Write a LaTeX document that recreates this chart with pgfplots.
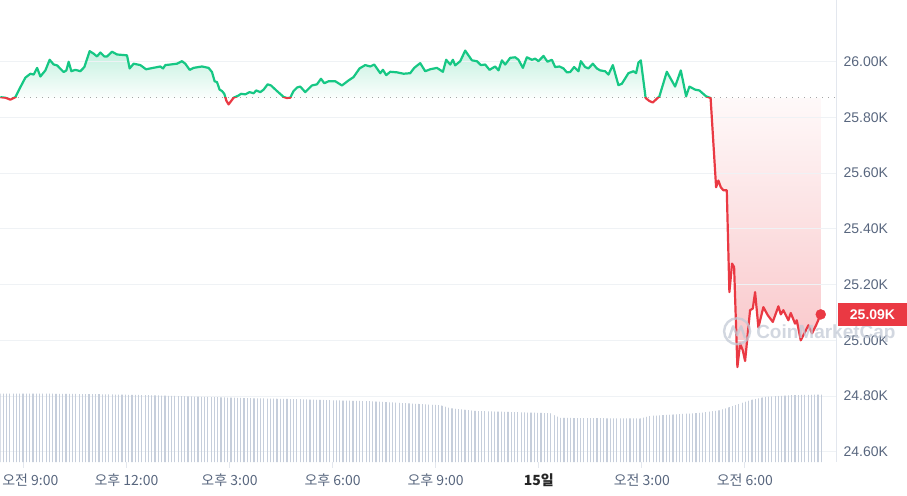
\documentclass[border=0pt]{standalone}
\usepackage{fontspec}
\setmainfont{Liberation Sans}
\newfontfamily\kr{Noto Sans CJK KR}
\usepackage{pgfplots}
\usepackage{pgfplotstable}
\pgfplotsset{compat=1.18}
\usetikzlibrary{patterns.meta}

\definecolor{upgreen}{HTML}{16C784}
\definecolor{downred}{HTML}{EA3943}
\definecolor{gridc}{HTML}{EFF2F5}
\definecolor{axc}{HTML}{E3E7EE}
\definecolor{labc}{HTML}{58667E}
\definecolor{volc}{HTML}{C6CEDB}
\definecolor{wmark}{HTML}{C3CAD6}

\def\pmin{24.563}
\def\pmax{26.219}
\def\pref{25.872}

\pgfplotsset{
  frame/.style={anchor=south west, scale only axis,
    width=836bp, xmin=-0.669, xmax=23.654},
}

% price in thousands, time in hours after 9:00
\pgfplotstableread{
h p
-0.669 25.872
-0.524 25.870
-0.378 25.863
-0.233 25.872
-0.087 25.908
0.058 25.942
0.204 25.956
0.300 25.953
0.399 25.977
0.495 25.946
0.640 25.968
0.765 26.006
0.882 25.989
0.981 25.986
1.173 25.962
1.251 25.968
1.318 25.999
1.397 25.965
1.513 25.970
1.658 25.965
1.775 25.980
1.929 26.037
2.045 26.028
2.144 26.018
2.240 26.032
2.357 26.018
2.435 26.018
2.581 26.035
2.726 26.025
3.017 26.022
3.093 25.975
3.209 25.992
3.404 25.987
3.570 25.972
3.695 25.975
3.986 25.982
4.065 25.975
4.132 25.987
4.277 25.989
4.472 25.992
4.617 26.001
4.713 25.992
4.839 25.970
4.955 25.977
5.199 25.982
5.391 25.977
5.490 25.962
5.566 25.929
5.636 25.926
5.711 25.899
5.781 25.894
5.848 25.884
5.906 25.860
5.973 25.846
6.119 25.870
6.264 25.878
6.334 25.884
6.459 25.882
6.584 25.890
6.701 25.886
6.779 25.896
6.895 25.890
6.992 25.899
7.108 25.918
7.207 25.914
7.381 25.894
7.573 25.873
7.667 25.869
7.768 25.870
7.864 25.894
7.972 25.907
8.059 25.910
8.205 25.890
8.400 25.914
8.545 25.918
8.662 25.938
8.758 25.922
8.883 25.929
9.078 25.929
9.273 25.914
9.465 25.932
9.610 25.944
9.785 25.975
9.950 25.987
10.096 25.982
10.212 25.989
10.387 25.958
10.465 25.970
10.562 25.951
10.678 25.963
10.873 25.961
11.065 25.956
11.260 25.958
11.376 25.977
11.551 25.994
11.696 25.965
11.842 25.972
12.037 25.977
12.211 25.963
12.307 26.006
12.424 25.989
12.502 26.006
12.569 25.986
12.715 26.001
12.860 26.039
13.055 26.004
13.200 26.001
13.317 25.987
13.442 25.989
13.567 25.970
13.733 25.982
13.829 25.968
13.928 26.004
14.024 25.989
14.169 26.013
14.315 26.015
14.411 26.006
14.539 25.977
14.655 26.015
14.801 26.006
14.897 26.010
14.993 26.001
15.138 26.020
15.254 25.999
15.382 26.006
15.479 25.980
15.604 25.982
15.720 25.975
15.819 25.961
15.915 25.962
16.031 25.980
16.157 25.965
16.226 26.001
16.351 25.980
16.447 25.975
16.575 25.992
16.692 25.975
16.788 25.968
16.933 25.965
17.029 25.953
17.157 25.987
17.320 25.915
17.419 25.920
17.611 25.958
17.757 25.965
17.835 25.958
17.902 25.996
17.972 26.004
18.112 25.869
18.222 25.858
18.321 25.853
18.513 25.875
18.728 25.963
18.970 25.910
19.136 25.968
19.290 25.875
19.386 25.910
19.552 25.899
19.677 25.896
19.872 25.875
20.003 25.869
20.163 25.549
20.230 25.573
20.300 25.549
20.375 25.538
20.474 25.538
20.550 25.173
20.628 25.275
20.687 25.263
20.783 24.904
20.861 24.988
20.940 24.964
21.007 24.926
21.152 25.108
21.231 25.114
21.298 25.173
21.394 25.046
21.539 25.119
21.667 25.090
21.813 25.066
21.976 25.122
22.046 25.093
22.121 25.108
22.267 25.072
22.336 25.098
22.461 25.060
22.510 25.072
22.627 25.000
22.752 25.030
22.848 25.054
22.956 25.025
23.072 25.054
23.209 25.093
}\pricedata

% volume bar heights (relative units)
\pgfplotstableread{
h v
-0.669 68.7
0.786 68.5
2.240 68.0
3.695 67.0
5.150 65.5
6.605 64.0
8.059 63.0
8.932 62.0
10.096 61.0
10.969 59.3
12.133 57.0
12.424 54.0
13.151 51.3
15.333 49.0
15.624 44.3
16.788 44.0
17.952 43.7
18.243 46.3
19.698 49.3
20.279 52.0
20.716 57.0
21.152 62.0
21.588 65.3
22.316 67.0
23.247 67.7
}\voldata

\begin{document}
\begin{tikzpicture}
\pgfmathsetmacro{\hlow}{462*(\pref-\pmin)/(\pmax-\pmin)}
\pgfmathsetmacro{\hhigh}{462-\hlow}

% picture size
\path (0,-33bp) rectangle (907bp,462bp);

% red area under the reference level: shaded band, then blank out what lies under the price
\begin{axis}[frame, at={(0,0)}, height=\hlow bp, ymin=\pmin, ymax=\pref, hide axis]
\addplot[draw=none, top color=downred!3, bottom color=downred!30] coordinates {(20.003,\pref) (23.209,\pref) (23.209,24.904) (20.003,24.904)} -- cycle;
\addplot[draw=none, fill=white] table {\pricedata} \closedcycle;
\end{axis}

% green area over the reference level: shaded band, then blank out what lies above the price
\begin{axis}[frame, at={(0,\hlow bp)}, height=\hhigh bp, ymin=\pref, ymax=\pmax, hide axis]
\addplot[draw=none, top color=upgreen!26, bottom color=upgreen!2] coordinates {(-0.233,\pref) (20.003,\pref) (20.003,26.039) (-0.233,26.039)} -- cycle;
\end{axis}
% same band measured downward from 27, so that the closed cycle runs to the top edge
\begin{axis}[frame, at={(0,\hlow bp)}, height=\hhigh bp, ymin=\pref-27, ymax=\pmax-27, hide axis]
\addplot[draw=none, fill=white] table[y expr=\thisrow{p}-27] {\pricedata} \closedcycle;
\end{axis}

% frame, grid, tick labels, reference level
\begin{axis}[
    frame, at={(0,0)}, height=462bp, ymin=\pmin, ymax=\pmax,
    axis x line*=bottom, axis y line*=right,
    x axis line style={draw=none},
    y axis line style={draw=axc, line width=0.8bp},
    tick align=outside, major tick length=6bp,
    xtick style={draw=axc, line width=0.8bp}, ytick style={draw=none},
    ymajorgrids, grid style={draw=gridc, line width=0.8bp},
    ytick={24.6,24.8,25,25.2,25.4,25.6,25.8,26},
    /pgf/number format/assume math mode=true,
    yticklabel={\pgfmathprintnumber[fixed,fixed zerofill,precision=2]{\tick}K},
    yticklabel style={anchor=west, xshift=-2bp, font=\fontsize{14bp}{16bp}\selectfont, text=labc},
    xtick={0,3,...,21},
    xticklabels={\makebox[0pt][c]{\hspace*{14bp}오전 9:00}, 오후 12:00, 오후 3:00, 오후 6:00, 오후 9:00, {\color{black!85}\bfseries 15일}, 오전 3:00, 오전 6:00},
    xticklabel style={anchor=center, yshift=-12bp, font=\kr\fontsize{14bp}{16bp}\selectfont, text=labc},
]
\addplot[gray!70, line width=1bp, dash pattern=on 1bp off 5bp] coordinates {(-0.669,\pref) (23.654,\pref)};
\end{axis}

% volume bars
\begin{axis}[frame, at={(0,0)}, height=462bp, ymin=0, ymax=462, hide axis]
\addplot[draw=none, pattern={Lines[angle=90, distance=3.3bp, line width=1.2bp]}, pattern color=volc] table {\voldata} \closedcycle;
\end{axis}

% price line above the reference level: green
\begin{axis}[frame, at={(0,\hlow bp)}, height=\hhigh bp, ymin=\pref, ymax=\pmax, hide axis]
\addplot[upgreen, line width=2.2bp, line join=round] table {\pricedata};
\end{axis}

% price line below the reference level: red
\begin{axis}[frame, at={(0,0)}, height=\hlow bp, ymin=\pmin, ymax=\pref, hide axis]
\addplot[downred, line width=2.2bp, line join=round] table {\pricedata};
\addplot[only marks, mark=*, mark size=5bp, downred] coordinates {(23.209,25.093)};
\end{axis}

% watermark
\begin{scope}[opacity=0.75]
  \draw[wmark, line width=2.4bp] (737bp,131bp) circle (13bp);
  \draw[wmark, line width=2.4bp, line join=round] (729bp,124bp) -- (733bp,136bp) -- (737bp,127bp) -- (741bp,136bp) -- (745bp,124bp);
  \node[anchor=west, text=wmark, font=\bfseries\fontsize{19bp}{21bp}\selectfont, inner sep=0pt] at (756bp,129bp) {CoinMarketCap};
\end{scope}

% last price tag
\node[anchor=west, fill=downred, text=white, font=\bfseries\fontsize{14bp}{16bp}\selectfont,
      minimum width=69bp, minimum height=23bp, inner sep=0pt, outer sep=0pt] at (838bp,148bp) {25.09K};
\end{tikzpicture}
\end{document}
